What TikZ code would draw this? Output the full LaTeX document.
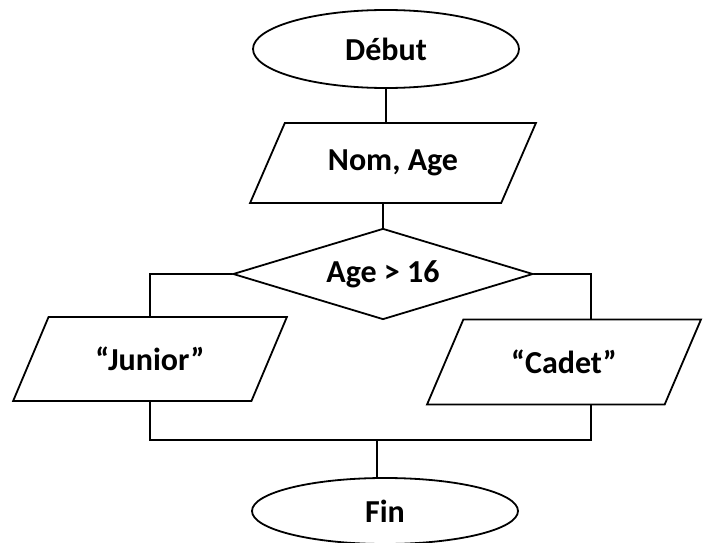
\documentclass[tikz,border=0pt]{standalone}
\usepackage{fontspec}
\setmainfont{Carlito}
\usetikzlibrary{shapes.geometric,calc}
\tikzset{
  lbl/.style={font=\bfseries\fontsize{32}{38}\selectfont, text=black},
  term/.style={lbl, shape=ellipse, draw, line width=1.8pt, inner sep=0pt, minimum width=266pt},
  io/.style={lbl, shape=trapezium, trapezium left angle=51.4, trapezium right angle=128.6,
     trapezium stretches=true, draw, line width=1.8pt, inner sep=0pt,
     minimum width=274pt, minimum height=84pt},
  decide/.style={lbl, shape=diamond, shape aspect=3.3, draw, line width=1.8pt, inner sep=0pt,
     minimum width=300pt, minimum height=91pt},
  conn/.style={line width=1.8pt, line cap=round}
}
\begin{document}
\begin{tikzpicture}[x=1pt,y=-1pt]
\useasboundingbox[fill=white] (0,0) rectangle (709,543);
\node[term, minimum height=78pt] (debut) at (386,49) {Début};
\node[io, minimum height=80pt, minimum width=286pt] (nom) at (393,163) {Nom, Age};
\node[decide] (dia) at (383,274) {Age > 16};
\node[io] (junior) at (150,359) {“Junior”};
\node[io, minimum height=85pt] (cadet) at (564,362) {“Cadet”};
\node[term, minimum height=66pt] (fin) at (385,511) {Fin};
\coordinate (rx) at (591,274);
\coordinate (m) at (377,440);
\draw[conn] (debut.south) -- (debut.south |- nom.north);
\draw[conn] (dia.north) -- (dia.north |- nom.south);
\draw[conn] (dia.west) -| (junior.north);
\draw[conn] (dia.east) -| (rx |- cadet.north);
\draw[conn] (junior.south) |- (rx |- m) -- (rx |- cadet.south);
\draw[conn] (m) -- (m |- fin.north);
\end{tikzpicture}
\end{document}
